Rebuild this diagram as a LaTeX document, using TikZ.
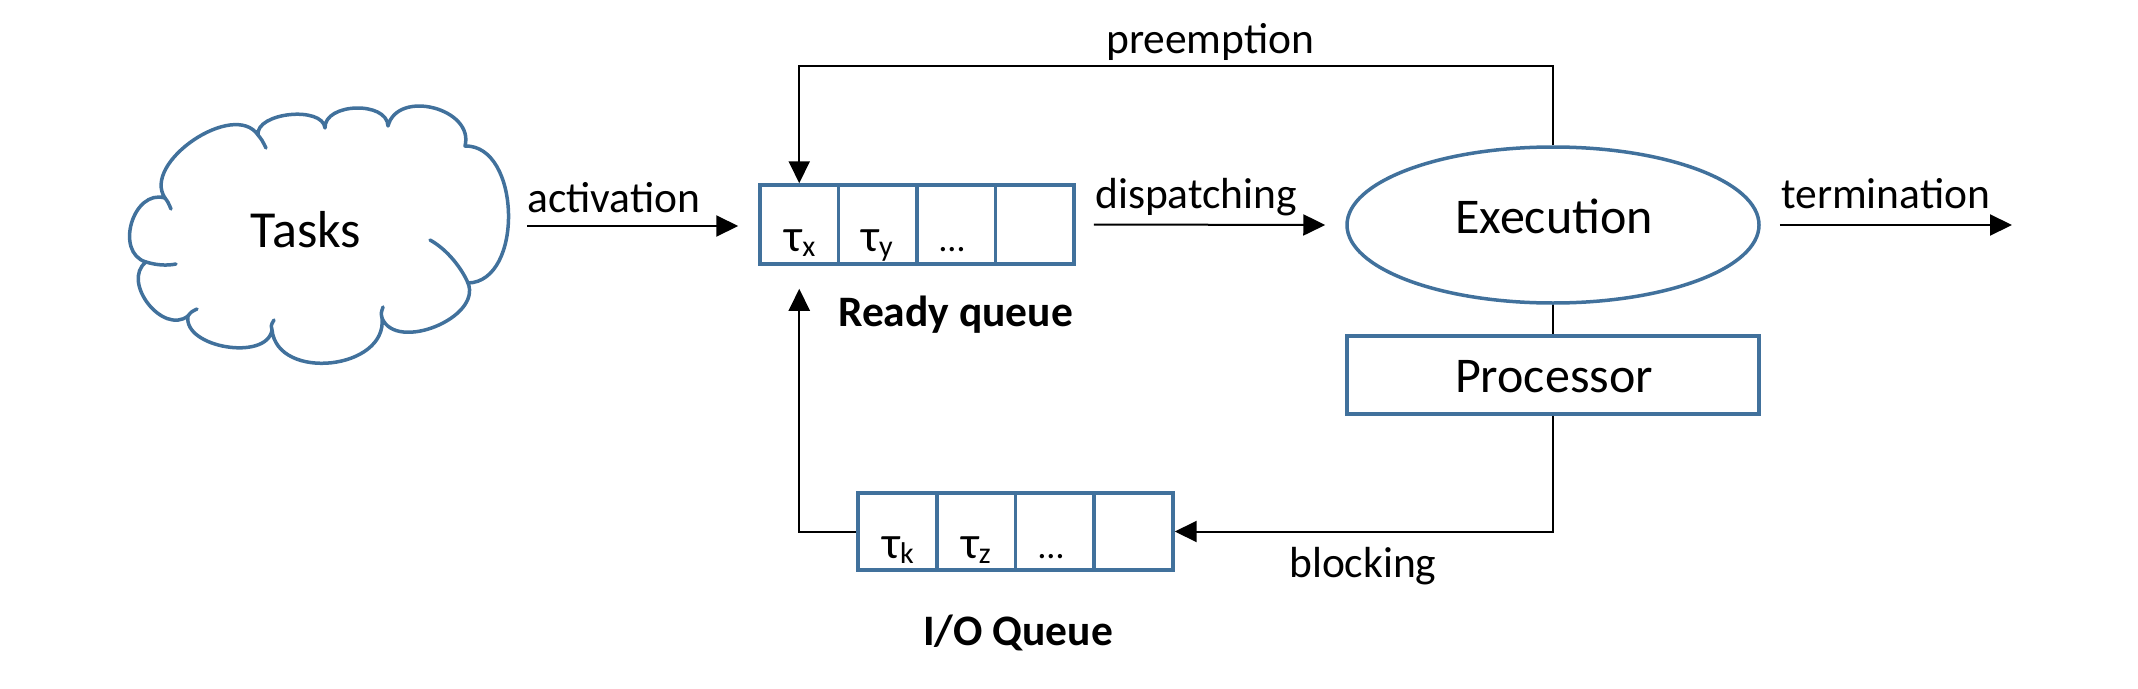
\documentclass[tikz,border=0pt]{standalone}
\usepackage{fontspec}
\setmainfont{Carlito}
\usetikzlibrary{arrows.meta,shapes.geometric,calc}
\definecolor{bl}{HTML}{41719C}
\begin{document}
\begin{tikzpicture}[x=1pt,y=-1pt,
  blueline/.style={draw=bl,line width=3.5pt},
  cell/.style={blueline,rectangle,minimum width=78.5pt,minimum height=79pt,inner sep=0pt},
  lbl/.style={font=\fontsize{43.5}{50}\selectfont,inner sep=0pt,anchor=base west},
  big/.style={font=\fontsize{50}{60}\selectfont,inner sep=0pt,anchor=base},
  qlbl/.style={font=\fontsize{43.5}{50}\selectfont\bfseries,inner sep=0pt,anchor=base west},
  tau/.style={font=\fontsize{46}{50}\selectfont,inner sep=0pt,anchor=base},
  conn/.style={draw=black,line width=2pt},
  arr/.style={conn,-{Triangle[length=22pt,width=21pt]}},
  tail/.style={blueline,line cap=round},
]
\useasboundingbox (0,0) rectangle (2138,688);

% cloud outline
\draw[blueline, line join=round] (146,262)
 .. controls (114.1,252.5) and (133.1,188.5) .. (165,198)
 .. controls (141.1,162.7) and (234.1,99.7) .. (258,135)
 .. controls (255.6,112.5) and (322.6,105.5) .. (325,128)
 .. controls (324.2,102.7) and (387.2,100.7) .. (388,126)
 .. controls (397.7,88.6) and (474.7,108.6) .. (465,146)
 .. controls (521,144.8) and (524,281.8) .. (468,283)
 .. controls (482.1,317.6) and (396.1,352.6) .. (382,318)
 .. controls (387.6,369.7) and (277.6,381.7) .. (272,330)
 .. controls (266.8,361.6) and (182.8,347.6) .. (188,316)
 .. controls (162.8,335.6) and (120.8,281.6) .. (146,262) -- cycle;
% cloud inner arcs
\draw[tail] (165,198) .. controls (168,202) .. (171,209);
\draw[tail] (258,135) .. controls (262,140) .. (266,148);
\draw[tail] (468,283) .. controls (462,269) and (448,250) .. (430,240);
\draw[tail] (146,262) .. controls (156,265) and (166,266) .. (176,264);
\draw[tail] (382,318) .. controls (381,313) .. (383,307);
\draw[tail] (272,330) .. controls (271,325) .. (274,320);
\draw[tail] (188,316) .. controls (191,312) .. (197,309);
\node[big, font=\fontsize{52}{60}\selectfont] (tasks) at (306,247) {Tasks};
\coordinate (actstart) at (527,226);

% ready queue
\node[cell] (rq1) at (799.25,224.5) {};
\node[cell] (rq2) at (877.75,224.5) {};
\node[cell] (rq3) at (956.25,224.5) {};
\node[cell] (rq4) at (1034.75,224.5) {};
\node[tau] (tx) at (800,251) {τ\raisebox{-5pt}{\fontsize{30}{30}\selectfont x}};
\node[tau] (ty) at (877,251) {τ\raisebox{-5pt}{\fontsize{30}{30}\selectfont y}};
\node[tau, font=\fontsize{36}{40}\selectfont] (rdots) at (952,251) {…};
\node[qlbl] (rqlbl) at (838,326) {Ready queue};

% I/O queue
\node[cell, minimum width=78.75pt, minimum height=77pt] (io1) at (897.4,531.5) {};
\node[cell, minimum width=78.75pt, minimum height=77pt] (io2) at (976.1,531.5) {};
\node[cell, minimum width=78.75pt, minimum height=77pt] (io3) at (1054.9,531.5) {};
\node[cell, minimum width=78.75pt, minimum height=77pt] (io4) at (1133.6,531.5) {};
\node[tau] (tk) at (898,558) {τ\raisebox{-5pt}{\fontsize{30}{30}\selectfont k}};
\node[tau] (tz) at (976,558) {τ\raisebox{-5pt}{\fontsize{30}{30}\selectfont z}};
\node[tau, font=\fontsize{36}{40}\selectfont] (idots) at (1051,558) {…};
\node[qlbl] (iolbl) at (923,645) {I/O Queue};

% execution + processor
\node[ellipse, blueline, minimum width=412pt, minimum height=156pt, inner sep=0pt] (exec) at (1553,225) {};
\node[big] (exectxt) at (1554,233) {Execution};
\node[rectangle, blueline, minimum width=412pt, minimum height=78pt, inner sep=0pt] (proc) at (1553,375) {};
\node[big] (proctxt) at (1554,392) {Processor};

\coordinate (term) at (2012,225);

% connectors
\draw[arr] (actstart) -- ([xshift=-20pt]rq1.west |- actstart);
\draw[arr] ([xshift=18pt]rq4.east) -- ([xshift=-20pt]exec.west);
\draw[arr] ([xshift=19pt]exec.east) -- (term);
\draw[arr] (exec.north) -- ++(0,-79) -| (rq1.north);
\draw[conn] (exec.south) -- (proc.north);
\draw[arr] (proc.south) |- (io4.east);
\draw[arr] (io1.west) -| ([yshift=-23pt]rq1.south);

% labels
\node[lbl] (lact) at (527,212) {activation};
\node[lbl] (ldisp) at (1095,208) {dispatching};
\node[lbl] (lterm) at (1781,208) {termination};
\node[lbl] (lpre) at (1106,53) {preemption};
\node[lbl] (lblock) at (1289,577) {blocking};
\end{tikzpicture}
\end{document}
